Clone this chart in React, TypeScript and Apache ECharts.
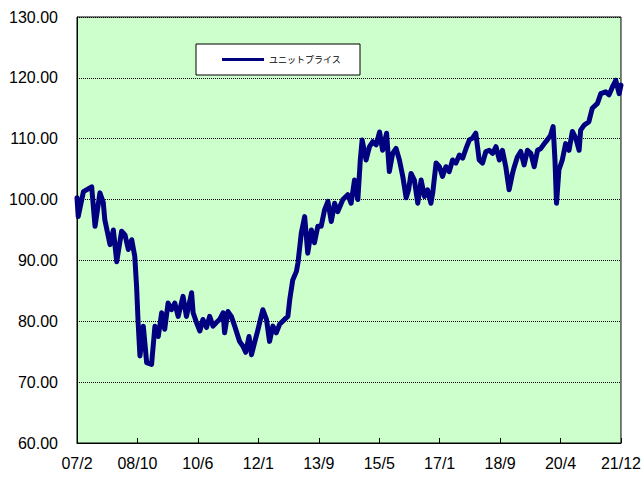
import React, { useEffect, useRef } from "react";
import * as echarts from "echarts";

// Month index counted from Feb 2007 (0) to Dec 2021 (178)
const months: number[] = [
  0, 0.4, 2.1, 4.8, 5.9, 7.5, 8.6, 9.1, 10.8, 11.9, 13.0, 14.6, 15.7, 16.8, 17.9, 18.9,
  19.5, 20.0, 20.6, 21.7, 22.8, 24.4, 25.5, 26.6, 27.7, 28.7, 29.8, 30.9, 32.0, 33.1,
  34.7, 35.8, 37.5, 38.0, 39.1, 40.2, 41.2, 42.4, 43.4, 44.5, 45.6, 46.7, 47.8, 48.3,
  49.4, 50.5, 51.6, 53.2, 54.3, 55.2, 56.3, 57.1, 58.1, 59.2, 60.8, 62.0, 63.0, 64.1,
  65.2, 66.3, 67.9, 69.0, 69.6, 70.6, 71.8, 72.3, 73.4, 74.5, 75.5, 76.7, 77.7, 78.8,
  79.9, 81.0, 82.1, 83.2, 84.3, 85.3, 87.0, 88.6, 89.7, 90.8, 91.9, 92.7, 93.3, 94.6,
  95.7, 96.8, 97.9, 99.0, 100.0, 101.3, 102.2, 103.3, 104.4, 105.5, 106.6, 107.7, 108.5,
  109.3, 110.4, 111.5, 112.6, 113.7, 114.7, 115.8, 116.4, 117.5, 118.6, 119.6, 120.7,
  121.8, 122.9, 124.0, 125.1, 126.2, 127.3, 128.4, 129.4, 130.5, 131.6, 132.7, 133.8,
  134.9, 136.0, 137.1, 138.2, 139.2, 140.3, 141.4, 142.5, 143.1, 144.1, 145.2, 146.3,
  147.4, 148.5, 149.6, 150.7, 151.8, 152.9, 153.9, 155.0, 155.8, 156.4, 156.9, 157.7,
  158.8, 159.9, 161.0, 162.1, 163.2, 164.3, 164.8, 165.9, 167.5, 168.6, 170.3, 171.4,
  173.0, 174.1, 175.2, 176.3, 177.4, 178,
];

const unitPrice: number[] = [
  100.3, 97.2, 101.3, 102.1, 95.6, 101.1, 99.5, 96.7, 92.6, 95.0, 89.8, 94.8, 94.2, 91.8, 93.4, 90.7,
  85.7, 79.8, 74.3, 79.2, 73.2, 72.9, 79.2, 77.5, 81.4, 78.7, 83.0, 81.9, 83.0, 80.8,
  84.1, 80.8, 84.7, 81.4, 79.8, 78.4, 80.3, 79.0, 80.8, 79.2, 79.8, 80.3, 81.4, 78.1,
  81.6, 80.8, 79.2, 76.7, 75.9, 74.9, 77.5, 74.5, 76.5, 78.6, 81.9, 80.3, 76.7, 79.2,
  78.1, 79.5, 80.3, 80.8, 83.5, 86.8, 88.2, 89.6, 94.5, 97.2, 91.2, 95.0, 92.9, 95.6,
  95.6, 98.3, 99.7, 96.4, 99.4, 98.0, 100.0, 100.8, 99.4, 103.2, 100.0, 106.5, 109.8, 106.5,
  108.7, 109.5, 109.0, 111.1, 108.1, 110.9, 104.6, 107.6, 108.4, 106.5, 103.8, 100.3, 101.6,
  104.3, 103.2, 99.4, 103.2, 100.5, 101.6, 99.4, 101.1, 106.0, 105.4, 103.8, 105.4,
  104.6, 106.5, 106.0, 107.3, 106.8, 108.4, 109.8, 110.1, 110.9, 106.5, 106.0, 107.9,
  108.1, 107.6, 108.7, 106.5, 108.1, 105.4, 101.6, 104.3, 105.4, 107.0, 107.9, 105.7,
  108.1, 107.6, 105.4, 108.1, 108.4, 109.2, 109.8, 110.6, 112.0, 106.5, 99.4, 104.9,
  106.5, 109.2, 108.1, 111.2, 110.1, 108.1, 111.4, 112.2, 112.8, 115.0, 115.8, 117.4,
  117.7, 117.2, 118.5, 119.6, 117.4, 118.8,
];

const xTickLabels: string[] = ["07/2", "08/10", "10/6", "12/1", "13/9", "15/5", "17/1", "18/9", "20/4", "21/12"];
const seriesName = "ユニットプライス";
const totalMonths = 178;

export default function App() {
  const ref = useRef<HTMLDivElement>(null);
  useEffect(() => {
    if (!ref.current) return;
    const chart = echarts.init(ref.current, undefined, { renderer: "svg" });
    const steps = xTickLabels.length - 1;
    const data = months.map((m, i) => [(m * steps) / totalMonths, unitPrice[i]]);
    const font = "'Liberation Sans', Arial, sans-serif";
    chart.setOption({
      animation: false,
      backgroundColor: "#ffffff",
      grid: {
        left: 77,
        right: 22,
        top: 17,
        bottom: 35,
        show: true,
        backgroundColor: "#ccffcc",
        borderColor: "#000000",
        borderWidth: 1,
      },
      legend: {
        show: true,
        left: 196,
        top: 44,
        orient: "horizontal",
        backgroundColor: "#ffffff",
        borderColor: "#000000",
        borderWidth: 1,
        padding: [11, 19, 11, 26],
        itemWidth: 42,
        itemHeight: 14,
        itemGap: 5,
        icon: "rect",
        data: [
          {
            name: seriesName,
            icon: "path://M0,6 L42,6 L42,9 L0,9 Z",
            itemStyle: { color: "#000080" },
          },
        ],
        textStyle: {
          fontSize: 9,
          color: "#000000",
          fontFamily: "'Noto Sans CJK JP', sans-serif",
          padding: [0, 0, 0, 0],
        },
      },
      xAxis: {
        type: "value",
        min: 0,
        max: steps,
        interval: 1,
        axisLine: { show: true, lineStyle: { color: "#000000", width: 1 } },
        axisTick: { show: true, inside: true, length: 5, lineStyle: { color: "#000000" } },
        splitLine: { show: false },
        axisLabel: {
          show: true,
          margin: 12,
          fontSize: 16,
          fontFamily: font,
          color: "#000000",
          formatter: (v: number) => xTickLabels[Math.round(v)] ?? "",
        },
      },
      yAxis: {
        type: "value",
        min: 60,
        max: 130,
        interval: 10,
        axisLine: { show: true, lineStyle: { color: "#000000", width: 1 } },
        axisTick: { show: false },
        splitLine: { show: true, lineStyle: { color: "#000000", width: 1, type: [1, 1] } },
        axisLabel: {
          show: true,
          margin: 19,
          fontSize: 16,
          fontFamily: font,
          color: "#000000",
          formatter: (v: number) => v.toFixed(2),
        },
      },
      series: [
        {
          name: seriesName,
          type: "line",
          data,
          symbol: "none",
          smooth: false,
          lineStyle: { color: "#000080", width: 5, join: "round", cap: "round" },
          itemStyle: { color: "#000080" },
        },
      ],
    });
    return () => chart.dispose();
  }, []);
  return (
    <div
      ref={ref}
      style={{ position: "fixed", left: 0, top: 0, width: 644, height: 478 }}
    />
  );
}
